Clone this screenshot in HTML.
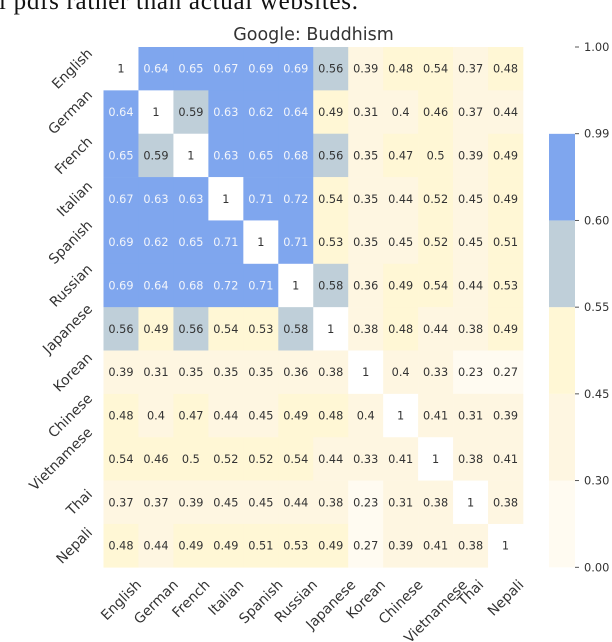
<!DOCTYPE html>
<html>
<head>
<meta charset="utf-8">
<style>
html,body{margin:0;padding:0;background:#fff;width:612px;height:642px;overflow:hidden}
svg{display:block;filter:blur(0.35px)}
text{font-family:"DejaVu Sans",sans-serif;fill:#333}
</style>
</head>
<body>
<svg id="chart" width="612" height="642" viewBox="0 0 612 642" xmlns="http://www.w3.org/2000/svg">
<text x="-1" y="9" textLength="359" lengthAdjust="spacing" style="font-family:'Liberation Serif',serif;font-size:25px;fill:#111">l pdfs rather than actual websites.</text>
<text x="313.5" y="40" text-anchor="middle" style="font-size:17.5px">Google: Buddhism</text>
<g id="cells"></g>
<g id="xlabels"></g>
<g id="ylabels"></g>
<g id="colorbar"></g>
</svg>
<script>
const languages = ["English","German","French","Italian","Spanish","Russian","Japanese","Korean","Chinese","Vietnamese","Thai","Nepali"];
const rowEnglish = [1,0.64,0.65,0.67,0.69,0.69,0.56,0.39,0.48,0.54,0.37,0.48];
const rowGerman = [0.64,1,0.59,0.63,0.62,0.64,0.49,0.31,0.4,0.46,0.37,0.44];
const rowFrench = [0.65,0.59,1,0.63,0.65,0.68,0.56,0.35,0.47,0.5,0.39,0.49];
const rowItalian = [0.67,0.63,0.63,1,0.71,0.72,0.54,0.35,0.44,0.52,0.45,0.49];
const rowSpanish = [0.69,0.62,0.65,0.71,1,0.71,0.53,0.35,0.45,0.52,0.45,0.51];
const rowRussian = [0.69,0.64,0.68,0.72,0.71,1,0.58,0.36,0.49,0.54,0.44,0.53];
const rowJapanese = [0.56,0.49,0.56,0.54,0.53,0.58,1,0.38,0.48,0.44,0.38,0.49];
const rowKorean = [0.39,0.31,0.35,0.35,0.35,0.36,0.38,1,0.4,0.33,0.23,0.27];
const rowChinese = [0.48,0.4,0.47,0.44,0.45,0.49,0.48,0.4,1,0.41,0.31,0.39];
const rowVietnamese = [0.54,0.46,0.5,0.52,0.52,0.54,0.44,0.33,0.41,1,0.38,0.41];
const rowThai = [0.37,0.37,0.39,0.45,0.45,0.44,0.38,0.23,0.31,0.38,1,0.38];
const rowNepali = [0.48,0.44,0.49,0.49,0.51,0.53,0.49,0.27,0.39,0.41,0.38,1];
const matrix = [rowEnglish,rowGerman,rowFrench,rowItalian,rowSpanish,rowRussian,rowJapanese,rowKorean,rowChinese,rowVietnamese,rowThai,rowNepali];
const colorBounds = [0,0.3,0.45,0.55,0.6,0.99,1];
const colorTickLabels = ["0.00","0.30","0.45","0.55","0.60","0.99","1.00"];
const bandColors = ["#fffbf1","#fef6e1","#fff7d5","#bfcfd9","#7fa6ee","#ffffff"];

const NS = "http://www.w3.org/2000/svg";
const plotLeft = 103.5, plotRight = 523, plotTop = 47, plotBottom = 567.3;
const cellW = (plotRight - plotLeft) / languages.length;
const cellH = (plotBottom - plotTop) / languages.length;
const xScale = i => plotLeft + i * cellW;
const yScale = i => plotTop + i * cellH;
const cbLeft = 549, cbRight = 575, cbTop = 47, cbBottom = 567.3;
const cbScale = i => cbBottom - i * (cbBottom - cbTop) / (colorBounds.length - 1);

function bandIndex(v) {
  for (let b = 0; b < bandColors.length; b++) {
    if (v <= colorBounds[b + 1]) {
      return (v > 0.99) ? 5 : b;
    }
  }
  return bandColors.length - 1;
}
function make(tag, parent, attrs, txt) {
  const el = document.createElementNS(NS, tag);
  for (const k in attrs) el.setAttribute(k, attrs[k]);
  if (txt !== undefined) el.textContent = txt;
  parent.appendChild(el);
  return el;
}

const cellsG = document.getElementById("cells");
matrix.forEach((row, r) => {
  row.forEach((v, c) => {
    const b = bandIndex(v);
    const rect = make("rect", cellsG, {x: xScale(c), y: yScale(r), width: cellW + 0.3, height: cellH + 0.3, fill: bandColors[b]});
    
    
  });
});
matrix.forEach((row, r) => {
  row.forEach((v, c) => {
    const b = bandIndex(v);
    const t = make("text", cellsG, {x: xScale(c) + cellW / 2, y: yScale(r) + cellH / 2 + 4, "text-anchor": "middle", "font-size": "11.3"}, String(v));
    t.style.fill = (b === 4) ? "#f2f5fb" : "#333";
    
    
  });
});

const xG = document.getElementById("xlabels");
const yG = document.getElementById("ylabels");
const labelFont = 13.9, labelCap = 10.5, sin45 = Math.SQRT1_2;
languages.forEach((name, i) => {
  const xt = make("text", xG, {"text-anchor": "middle", "font-size": labelFont}, name);
  
  
  const len = xt.getComputedTextLength();
  const cx = xScale(i) + cellW / 2;
  const cy = 578.5 + (len + labelCap) * sin45 / 2;
  xt.setAttribute("transform", "translate(" + cx + "," + cy + ") rotate(-45) translate(0," + (labelCap / 2 - 0.5) + ")");

  const yt = make("text", yG, {"text-anchor": "middle", "font-size": labelFont}, name);
  
  
  const ylen = yt.getComputedTextLength();
  const ex = 93.5 - (ylen + labelCap) * sin45 / 2;
  const ey = yScale(i) + cellH / 2;
  yt.setAttribute("transform", "translate(" + ex + "," + ey + ") rotate(-45) translate(0," + (labelCap / 2 - 0.5) + ")");
});

const cbG = document.getElementById("colorbar");
bandColors.forEach((col, b) => {
  const band = make("rect", cbG, {x: cbLeft, y: cbScale(b + 1), width: cbRight - cbLeft, height: cbScale(b) - cbScale(b + 1), fill: col});
  
  
});
colorTickLabels.forEach((label, i) => {
  const y = cbScale(i);
  const tick = make("line", cbG, {x1: cbRight, x2: cbRight + 4, y1: y, y2: y, stroke: "#444", "stroke-width": 0.9});
  
  
  const t = make("text", cbG, {x: 584, y: y + 4, "font-size": "11.4"}, label);
  
  
});
</script>
</body>
</html>
